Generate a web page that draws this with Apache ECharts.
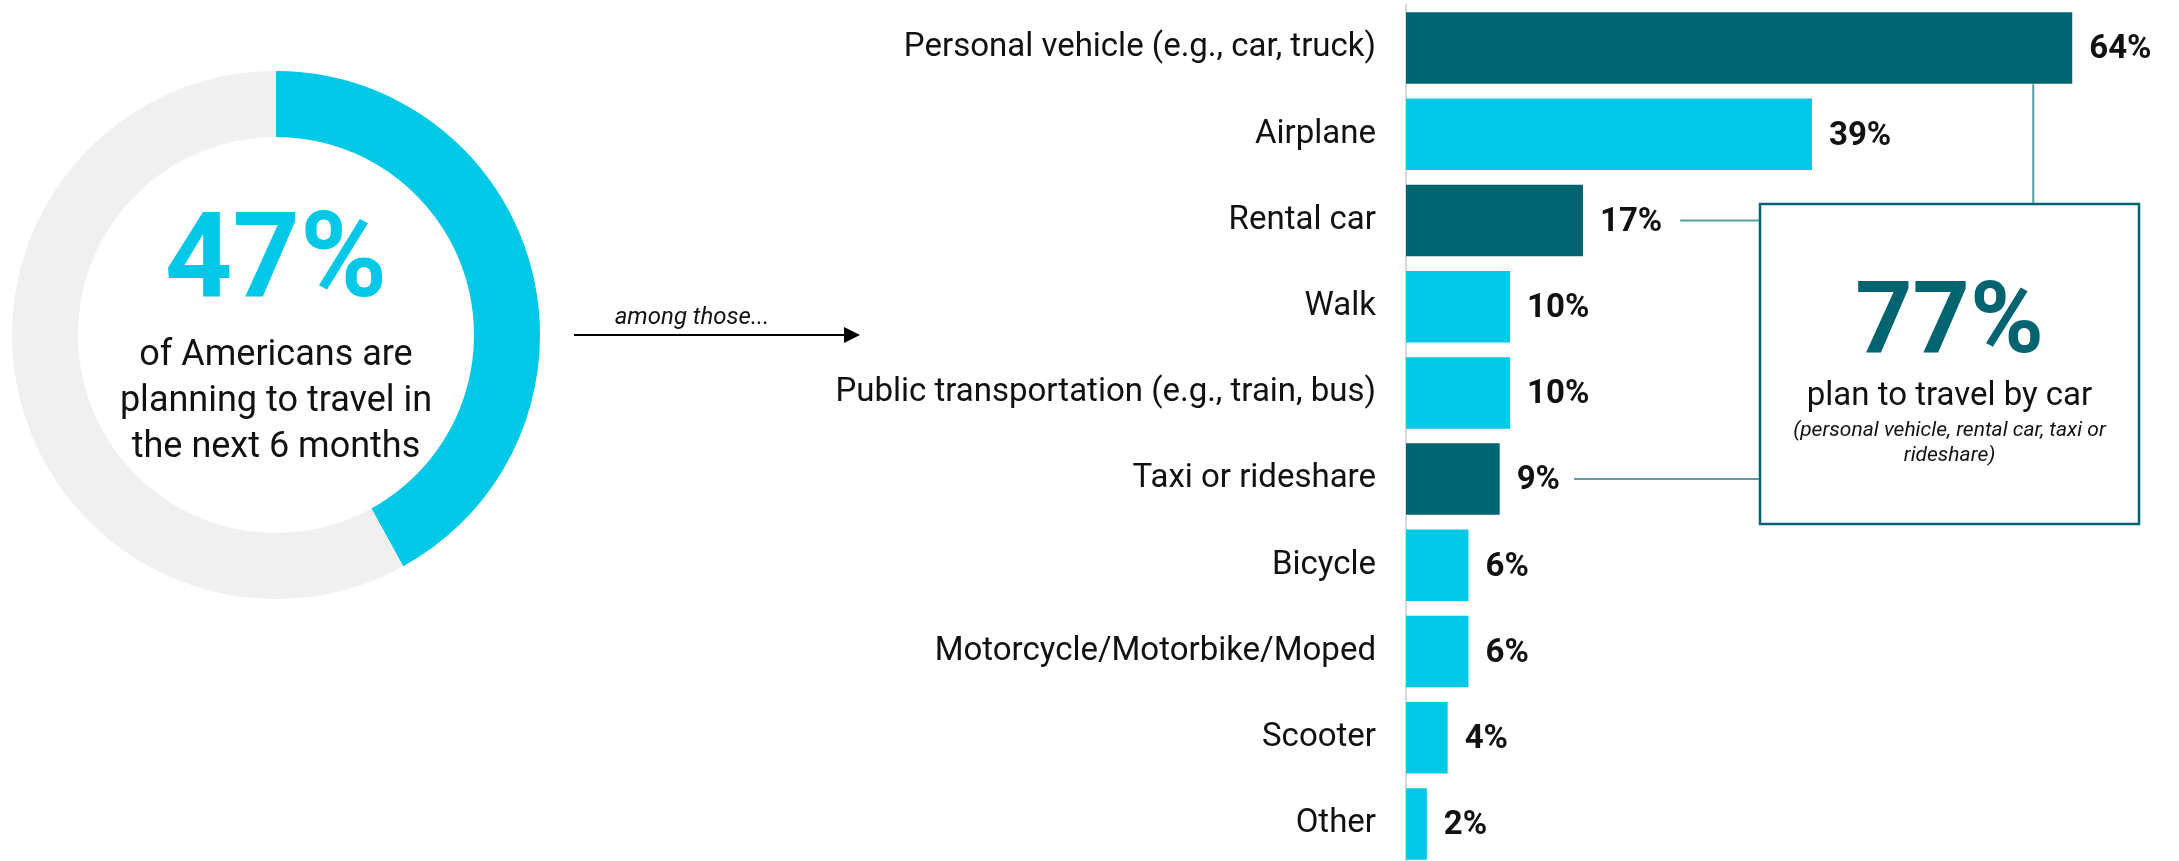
<!DOCTYPE html>
<html>
<head>
<meta charset="utf-8">
<script src="https://cdn.jsdelivr.net/npm/echarts@6/dist/echarts.min.js"></script>
<style>
  html, body { margin: 0; padding: 0; background: #ffffff; }
  #chart { width: 2179px; height: 861px; }
</style>
</head>
<body>
<div id="chart"></div>
<script>
// ---- data ----
const categories = [
  'Personal vehicle (e.g., car, truck)',
  'Airplane',
  'Rental car',
  'Walk',
  'Public transportation (e.g., train, bus)',
  'Taxi or rideshare',
  'Bicycle',
  'Motorcycle/Motorbike/Moped',
  'Scooter',
  'Other'
];
const shares = [64, 39, 17, 10, 10, 9, 6, 6, 4, 2];
const byCar = [true, false, true, false, false, true, false, false, false, false];
const donutDrawn = [42, 58];            // arc as drawn in the picture
const donutHeadline = '47%';
const donutLines = ['of Americans are', 'planning to travel in', 'the next 6 months'];
const carHeadline = '77%';
const carLine = 'plan to travel by car';
const carNote = ['(personal vehicle, rental car, taxi or', 'rideshare)'];
const arrowText = 'among those...';

// ---- styles ----
const CYAN = '#00C8E6';
const TEAL = '#006470';
const RING = '#F0F0F0';
const LINK = '#5A9CA3';
const FONT = 'Roboto, "Liberation Sans", sans-serif';

const chart = echarts.init(document.getElementById('chart'), null, { renderer: 'canvas' });

chart.setOption({
  animation: false,
  backgroundColor: '#ffffff',
  textStyle: { fontFamily: FONT },
  grid: { left: 1406, top: 5, width: 1041, height: 862, containLabel: false, outerBoundsMode: 'none' },
  xAxis: {
    type: 'value', min: 0, max: 100, show: false
  },
  yAxis: {
    type: 'category', data: categories, inverse: true,
    axisTick: { show: false },
    axisLine: { show: true, lineStyle: { color: '#D9D9D9', width: 2 } },
    axisLabel: { fontSize: 33, color: '#111111', margin: 30, fontFamily: FONT }
  },
  series: [
    {
      type: 'pie',
      center: [276, 335],
      radius: [198, 264],
      startAngle: 90,
      clockwise: true,
      silent: true,
      label: { show: false },
      labelLine: { show: false },
      emphasis: { disabled: true },
      data: donutDrawn.map((v, i) => ({ value: v, itemStyle: { color: i === 0 ? CYAN : RING } }))
    },
    {
      type: 'bar',
      barCategoryGap: '17%',
      silent: true,
      data: shares.map((v, i) => ({ value: v, itemStyle: { color: byCar[i] ? TEAL : CYAN } })),
      label: {
        show: true, position: 'right', distance: 17, offset: [0, 2],
        formatter: '{c}%', fontSize: 33, fontWeight: 'bold', color: '#111111', fontFamily: FONT
      }
    }
  ]
});

// ---- annotations anchored on the bars ----
const measure = document.createElement('canvas').getContext('2d');
measure.font = 'bold 33px ' + FONT;
function labelEnd(i) {
  const p = chart.convertToPixel({ gridIndex: 0 }, [shares[i], i]);
  return p[0] + 17 + measure.measureText(shares[i] + '%').width;
}
const box = { x: 1760, y: 204, w: 379, h: 320 };
const cx = box.x + box.w / 2;
const iRental = categories.indexOf('Rental car');
const iTaxi = categories.indexOf('Taxi or rideshare');
const yRental = chart.convertToPixel({ gridIndex: 0 }, [0, iRental])[1];
const yTaxi = chart.convertToPixel({ gridIndex: 0 }, [0, iTaxi])[1];
const topEnd = chart.convertToPixel({ gridIndex: 0 }, [shares[0], 0]);
const bandH = chart.convertToPixel({ gridIndex: 0 }, [0, 1])[1] - topEnd[1];
const vx = topEnd[0] - 39;

const graphics = [
  // donut centre text
  { type: 'text', style: { x: 276, y: 266, text: donutHeadline, fill: CYAN, font: 'bold 118px ' + FONT, textAlign: 'center', textVerticalAlign: 'middle' } },
  ...donutLines.map((t, k) => ({
    type: 'text', style: { x: 276, y: 356 + k * 46, text: t, fill: '#111111', font: '36px ' + FONT, textAlign: 'center', textVerticalAlign: 'middle' }
  })),
  // arrow
  { type: 'text', style: { x: 692, y: 318, text: arrowText, fill: '#111111', font: 'italic 24px ' + FONT, textAlign: 'center', textVerticalAlign: 'middle' } },
  { type: 'line', shape: { x1: 574, y1: 335, x2: 848, y2: 335 }, style: { stroke: '#000000', lineWidth: 2 } },
  { type: 'polygon', shape: { points: [[844, 327], [860, 335], [844, 343]] }, style: { fill: '#000000' } },
  // connectors
  { type: 'line', shape: { x1: labelEnd(iRental) + 18, y1: yRental, x2: box.x, y2: yRental }, style: { stroke: LINK, lineWidth: 2 } },
  { type: 'line', shape: { x1: labelEnd(iTaxi) + 14, y1: yTaxi, x2: box.x, y2: yTaxi }, style: { stroke: LINK, lineWidth: 2 } },
  { type: 'line', shape: { x1: vx, y1: topEnd[1] + bandH / 2 - 7, x2: vx, y2: box.y }, style: { stroke: LINK, lineWidth: 2 } },
  // callout box
  { type: 'rect', shape: { x: box.x, y: box.y, width: box.w, height: box.h }, style: { fill: '#ffffff', stroke: TEAL, lineWidth: 2.5 } },
  { type: 'text', style: { x: cx, y: 327, text: carHeadline, fill: TEAL, font: 'bold 100px ' + FONT, textAlign: 'center', textVerticalAlign: 'middle' } },
  { type: 'text', style: { x: cx, y: 397, text: carLine, fill: '#111111', font: '33px ' + FONT, textAlign: 'center', textVerticalAlign: 'middle' } },
  ...carNote.map((t, k) => ({
    type: 'text', style: { x: cx, y: 431 + k * 25, text: t, fill: '#111111', font: 'italic 21px ' + FONT, textAlign: 'center', textVerticalAlign: 'middle' }
  }))
];
chart.setOption({ graphic: graphics });
</script>
</body>
</html>
